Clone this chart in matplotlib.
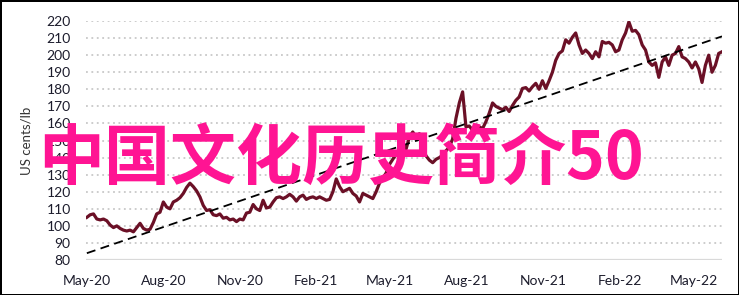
import numpy as np
import pandas as pd
import matplotlib
matplotlib.use("Agg")
import matplotlib.pyplot as plt
import matplotlib.dates as mdates

# ---------------------------------------------------------
# data (one value every 4 days from 1 May 2020)
# ---------------------------------------------------------
start_date = "2020-05-01"
step_days = 4
price = [
    105, 106.5, 107, 104, 103.5, 104, 103, 100.5, 99, 100,
    98.5, 97.5, 97, 97.5, 96.5, 99, 101.5, 98.5, 97.5, 98,
    102, 107, 108, 114, 111, 110, 114, 115, 116.5, 119,
    122.5, 125, 123, 120.5, 117, 112, 109, 109.5, 106.5, 106,
    107, 104.5, 105, 103.5, 104, 102.5, 104, 103.5, 107.5, 108,
    112.5, 110, 109, 115, 110.5, 111, 114, 116.5, 117, 116,
    117, 118.5, 117, 114.5, 117, 118, 115.5, 116.5, 117, 116,
    117, 116, 115, 115.5, 120, 127.5, 123, 120, 121, 122,
    119, 117.5, 114, 119, 118, 117, 116, 120, 125, 128,
    131, 136, 139, 142, 145, 148, 145, 152, 155, 152,
    154, 146, 141, 138.5, 137, 139, 140, 141.5, 144, 146,
    151, 163, 172, 178.5, 158, 158.5, 156, 159, 158, 157,
    161, 166, 172, 170, 169, 168, 169.5, 167, 170.5, 173.5,
    175.5, 180.5, 181, 179, 181.5, 183.5, 180, 185, 180.5, 185,
    190, 197, 201, 202.5, 209, 207, 210.5, 213, 206, 201,
    203, 201, 198, 202, 199, 208, 207, 207.5, 206, 202,
    203, 209, 213, 219.5, 214, 214.5, 212, 206, 203, 196,
    194, 195.5, 187, 196, 199, 194, 200, 201, 205, 199,
    198, 196, 192.5, 196, 192, 184, 194, 200, 190, 194,
    201, 202,
]
trend_ends = [84, 211]          # dashed trend line, first and last value
y_ticks = list(range(80, 221, 10))
title_text = "中国文化历史简介50"

dates = pd.date_range(start_date, periods=len(price), freq=f"{step_days}D")

# ---------------------------------------------------------
# figure
# ---------------------------------------------------------
fig = plt.figure(figsize=(7.39, 2.95), dpi=100, linewidth=2, edgecolor="black")
ax = fig.add_axes([0.1164, 0.1186, 0.977 - 0.1164, 0.9288 - 0.1186])

ax.plot(dates, price, color="#6b1026", linewidth=2.3, zorder=3)
ax.plot([dates[0], dates[-1]], trend_ends, color="black", linewidth=1.3,
        dashes=(5, 3), zorder=4)

ax.set_ylim(80, 220)
ax.set_xlim(dates[0] - pd.Timedelta(days=1), dates[-1])
ax.set_yticks(y_ticks)

ax.xaxis.set_major_locator(mdates.MonthLocator(bymonth=[2, 5, 8, 11]))
ax.xaxis.set_major_formatter(mdates.DateFormatter("%b-%y"))
for lab in ax.get_xticklabels() + ax.get_yticklabels():
    lab.set_fontfamily("Lato")
    lab.set_fontsize(10)
    lab.set_color("#1c1c2c")
ax.tick_params(axis="both", length=0)
ax.tick_params(axis="y", pad=11)
ax.tick_params(axis="x", pad=11)

# grid: dotted, with solid base line at 80
for v in y_ticks[1:]:
    ax.axhline(v, color="#c8c8c8", linewidth=1.3, linestyle=(0, (1, 2)), zorder=1)
ax.axhline(80, color="#d9d9d9", linewidth=1.6, zorder=1)

for s in ax.spines.values():
    s.set_visible(False)

ax.set_ylabel("US cents/lb", fontfamily="Lato", fontsize=9.5, color="#333333", labelpad=10)

# big overlay text
fig.text(0.462, 0.458, title_text, color="#ff1493", fontsize=47.5, fontweight="bold",
         family=["Noto Sans CJK SC", "DejaVu Sans"], ha="center", va="center", zorder=10)

fig.savefig("out.png", dpi=100, edgecolor=fig.get_edgecolor())
